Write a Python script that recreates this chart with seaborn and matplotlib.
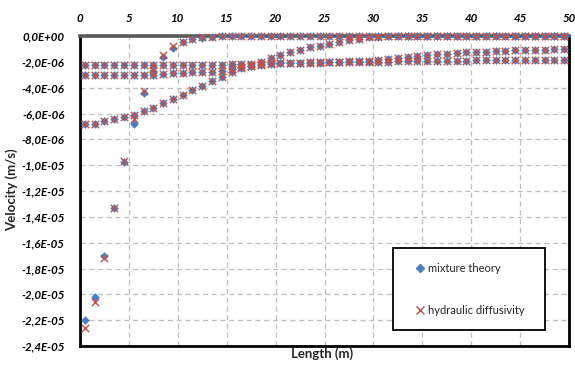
import numpy as np
import pandas as pd
import matplotlib
matplotlib.use("Agg")
import matplotlib.pyplot as plt
from matplotlib.lines import Line2D
from matplotlib.patches import Rectangle
from matplotlib.ticker import FuncFormatter, MultipleLocator
import seaborn as sns

# Positions along the column (m)
length = [0.5 + k for k in range(50)]

# Velocity profiles (in 1e-6 m/s) at four times, per method
early_mix = [-22.0, -20.2, -17.0, -13.35, -9.75, -6.85, -4.4, -2.7, -1.6, -0.9,
             -0.5, -0.26, -0.12, -0.05, -0.02] + [0.0] * 35
early_hyd = [-22.6, -20.6, -17.2, -13.3, -9.65, -6.45, -4.25, -2.62, -1.48, -0.8,
             -0.47, -0.25, -0.11, -0.05, -0.02] + [0.0] * 35
second = [-6.82, -6.8, -6.6, -6.46, -6.3, -6.12, -5.8, -5.56, -5.2, -4.86,
          -4.57, -4.19, -3.88, -3.46, -3.15, -2.77, -2.5, -2.3, -2.05, -1.73,
          -1.45, -1.27, -1.09, -0.88, -0.77, -0.6, -0.47, -0.32, -0.2, -0.1,
          -0.04, -0.02] + [0.0] * 18
third = [-3.0] * 8 + [-2.95, -2.9, -2.85, -2.8, -2.78, -2.75, -2.7, -2.55, -2.4,
         -2.3, -2.22, -2.15, -2.1, -2.08, -2.06, -2.04, -2.02, -2.0, -1.98,
         -1.96, -1.94, -1.92, -1.88, -1.8, -1.7, -1.62, -1.55, -1.48, -1.42,
         -1.37, -1.32, -1.27, -1.23, -1.2, -1.17, -1.14, -1.12, -1.1, -1.08,
         -1.06, -1.04, -1.02]
fourth = [-2.22] * 15 + [-2.2, -2.18, -2.16, -2.14, -2.12, -2.1, -2.09, -2.08,
          -2.07, -2.06, -2.05, -2.04, -2.03, -2.02, -2.01, -2.0, -1.98, -1.97,
          -1.96, -1.95, -1.94, -1.93, -1.92, -1.91, -1.9, -1.89, -1.88, -1.88,
          -1.87, -1.87, -1.86, -1.86, -1.85, -1.85, -1.85]

x_ticks = [0, 5, 10, 15, 20, 25, 30, 35, 40, 45, 50]
labels = ["mixture theory", "hydraulic diffusivity"]

BLUE = "#4A7EBB"
RED = "#C0504D"


def frame(profiles):
    parts = []
    for p in profiles:
        parts.append(pd.DataFrame({"length": length, "velocity": np.array(p) * 1e-6}))
    return pd.concat(parts, ignore_index=True)


def sci_comma(v, _):
    if abs(v) < 1e-12:
        v = 0.0
    return f"{v:.1E}".replace(".", ",")


mix = frame([early_mix, second, third, fourth])
hyd = frame([early_hyd, second, third, fourth])

sns.set_style("white")
plt.rcParams["font.family"] = ["Lato", "DejaVu Sans"]

fig = plt.figure(figsize=(5.75, 3.67), dpi=100)
ax = fig.add_axes([80 / 575, 1 - 346 / 367, 489 / 575, 310 / 367])

sns.scatterplot(data=mix, x="length", y="velocity", marker="D", color=BLUE,
                s=16, edgecolor=BLUE, linewidth=0.3, legend=False, ax=ax,
                zorder=4, clip_on=False)
sns.scatterplot(data=hyd, x="length", y="velocity", marker="x", color=RED,
                s=28, linewidth=1.0, legend=False, ax=ax, zorder=5,
                clip_on=False)

ax.set_xlim(0, 50)
ax.set_ylim(-2.4e-5, 0)
ax.set_xticks(x_ticks)
ax.yaxis.set_major_locator(MultipleLocator(2e-6))
ax.yaxis.set_major_formatter(FuncFormatter(sci_comma))
ax.xaxis.tick_top()
ax.tick_params(axis="both", length=0, labelsize=8.3, colors="black")
ax.tick_params(axis="x", pad=9)
ax.tick_params(axis="y", pad=11)
for lab in ax.get_xticklabels() + ax.get_yticklabels():
    lab.set_fontweight("bold")
    lab.set_fontstyle("italic")

ax.grid(True, linestyle=(0, (4, 3)), color="#BFBFBF", linewidth=0.9)
ax.set_axisbelow(True)

for side in ["left", "bottom", "right"]:
    ax.spines[side].set_color("black")
    ax.spines[side].set_linewidth(2.0)
ax.spines["top"].set_color("#595959")
ax.spines["top"].set_linewidth(2.6)

ax.set_xlabel("")
ax.set_ylabel("")
fig.text(322 / 575, 1 - 354 / 367, "Length (m)", ha="center", va="center",
         fontsize=9.5, fontweight="bold")
fig.text(12 / 575, 1 - 190 / 367, "Velocity (m/s)", ha="center", va="center",
         rotation=90, fontsize=9.5, fontweight="bold")

# Legend box
bx0, bx1 = (393 - 80) / 489, (545 - 80) / 489
by0, by1 = (346 - 330) / 310, (346 - 248) / 310
ax.add_patch(Rectangle((bx0, by0), bx1 - bx0, by1 - by0, transform=ax.transAxes,
                       facecolor="white", edgecolor="black", linewidth=1.3,
                       zorder=6))
handles = [
    Line2D([], [], linestyle="none", marker="D", markersize=3.8, color=BLUE),
    Line2D([], [], linestyle="none", marker="x", markersize=5.5, color=RED,
           markeredgewidth=1.0),
]
leg = ax.legend(handles, labels, loc="upper left",
                bbox_to_anchor=((416 - 80) / 489, (346 - 263) / 310),
                frameon=False, fontsize=8, handlelength=0.8,
                handletextpad=0.3, labelspacing=2.8, borderpad=0,
                borderaxespad=0)
leg.set_zorder(7)
for t in leg.get_texts():
    t.set_color("#262626")

fig.savefig("out.png", dpi=100)
